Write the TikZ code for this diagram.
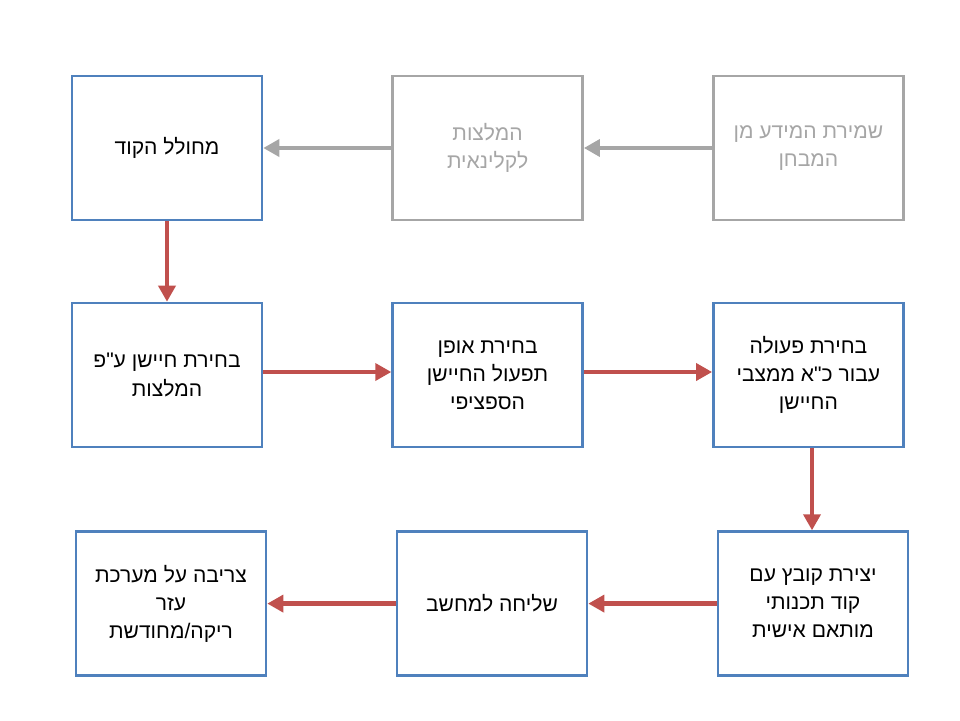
\documentclass[tikz,border=0pt]{standalone}
\usepackage{fontspec}
\usetikzlibrary{arrows.meta}
\newfontfamily\hebfont[Script=Hebrew]{Liberation Sans}
\TeXXeTstate=1
\definecolor{stepblue}{RGB}{79,129,189}
\definecolor{stepred}{RGB}{192,80,77}
\definecolor{stepgray}{RGB}{166,166,166}
\tikzset{
  stepbox/.style={draw=stepblue, line width=1.8pt, minimum width=4.75cm, minimum height=3.6cm,
    align=center, font=\hebfont\fontsize{15}{20}\selectfont},
  oldbox/.style={stepbox, draw=stepgray, text=stepgray},
  flow/.style={line width=3.5pt, draw=stepred, -{Triangle[length=0.4cm,width=0.42cm]}},
  oldflow/.style={flow, draw=stepgray, line width=3.2pt}
}
\begin{document}
\begin{tikzpicture}
\useasboundingbox (0,0) rectangle (24,18);
% top row
\node[stepbox] (gen) at (4.175,14.3) {\beginR מחולל הקוד\endR};
\node[oldbox] (recom) at (12.19,14.3) {\beginR המלצות\endR\\\beginR לקלינאית\endR};
\node[oldbox] (store) at (20.21,14.3) {\beginR שמירת המידע מן\endR\\\beginR המבחן\endR};
% middle row
\node[stepbox] (pick) at (4.175,8.625) {\beginR בחירת חיישן ע"פ\endR\\\beginR המלצות\endR};
\node[stepbox] (mode) at (12.19,8.625) {\beginR בחירת אופן\endR\\\beginR תפעול החיישן\endR\\\beginR הספציפי\endR};
\node[stepbox] (act) at (20.21,8.625) {\beginR בחירת פעולה\endR\\\beginR עבור כ"א ממצבי\endR\\\beginR החיישן\endR};
% bottom row
\node[stepbox] (burn) at (4.275,2.91) {\beginR צריבה על מערכת\endR\\\beginR עזר\endR\\\beginR ריקה/מחודשת\endR};
\node[stepbox] (send) at (12.3,2.91) {\beginR שליחה למחשב\endR};
\node[stepbox] (file) at (20.325,2.91) {\beginR יצירת קובץ עם\endR\\\beginR קוד תכנותי\endR\\\beginR מותאם אישית\endR};
% connectors
\draw[oldflow] (store.west) -- (recom.east);
\draw[oldflow] (recom.west) -- (gen.east);
\draw[flow] (gen.south) -- (pick.north);
\draw[flow] ([yshift=0.075cm]pick.east) -- ([yshift=0.075cm]mode.west);
\draw[flow] ([yshift=0.075cm]mode.east) -- ([yshift=0.075cm]act.west);
\draw[flow] ([xshift=0.09cm]act.south) -- ([xshift=0.09cm]act.south |- file.north);
\draw[flow] (file.west) -- (send.east);
\draw[flow] (send.west) -- (burn.east);
\end{tikzpicture}
\end{document}
